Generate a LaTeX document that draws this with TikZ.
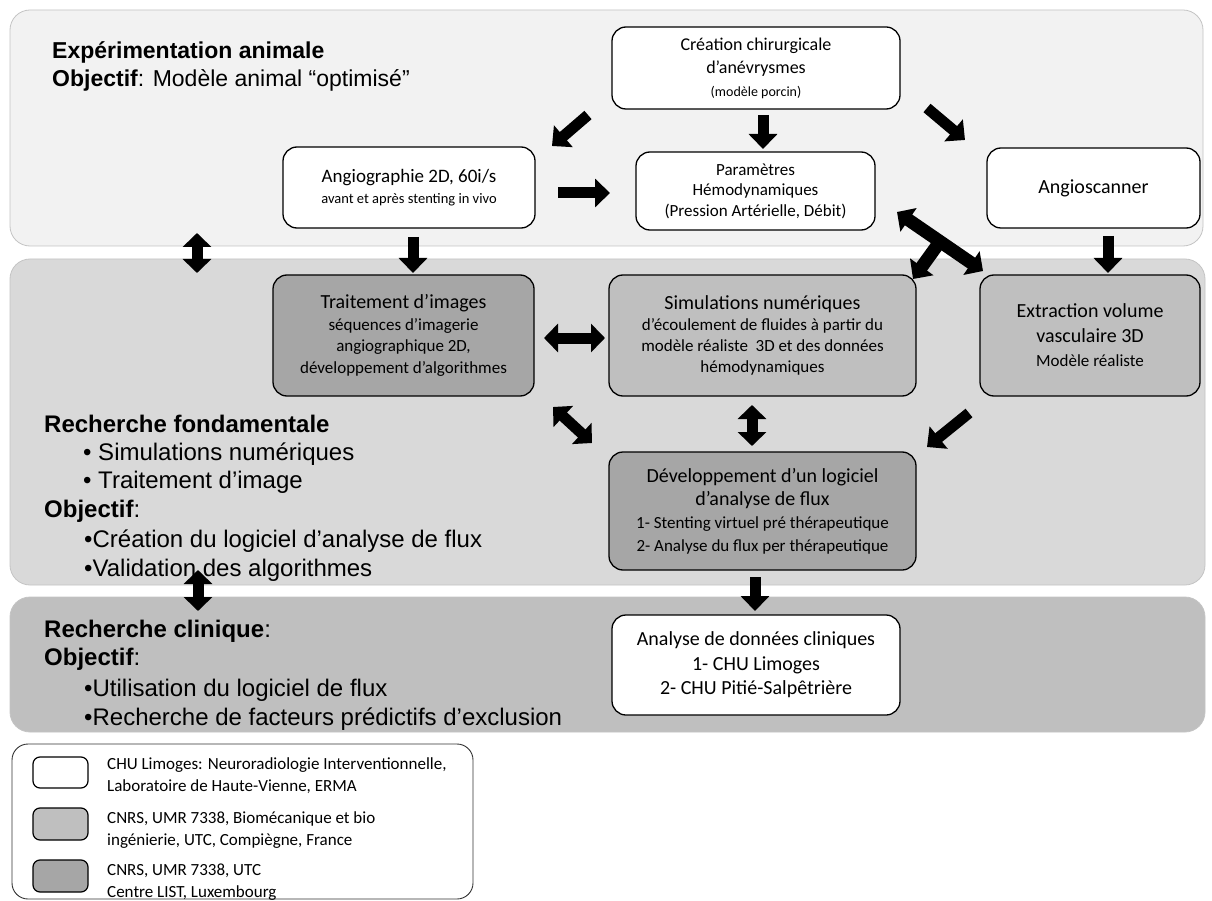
\documentclass[tikz,border=0pt]{standalone}
\usepackage{fontspec}
\setmainfont{Carlito}
\newfontfamily\arial{Liberation Sans}
\usetikzlibrary{arrows.meta}
\definecolor{bandA}{HTML}{F2F2F2}
\definecolor{bandB}{HTML}{D9D9D9}
\definecolor{bandC}{HTML}{BFBFBF}
\definecolor{boxL}{HTML}{BFBFBF}
\definecolor{boxD}{HTML}{A6A6A6}
\definecolor{bandline}{HTML}{C4C4C4}
\newcommand{\fsz}[1]{\fontsize{#1}{#1}\selectfont}
\begin{document}
\begin{tikzpicture}[x=1pt,y=-1pt,
  band/.style={draw=bandline, line width=0.8pt, rounded corners=20pt},
  box/.style={draw=black, line width=1.3pt, rounded corners=14pt, align=center, inner sep=2pt},
  lab/.style={anchor=base west, inner sep=0pt, font=\arial\fontsize{24}{28}\selectfont},
  labtop/.style={anchor=base west, inner sep=0pt, font=\arial\fontsize{23}{27}\selectfont},
  leg/.style={anchor=base west, inner sep=0pt, font=\fontsize{17}{20}\selectfont},
  sw/.style={draw=black, line width=1.2pt, rounded corners=7pt},
  blk/.style={line width=11pt, -{Triangle[width=28pt,length=15pt]}},
  dblk/.style={line width=11pt, {Triangle[width=28pt,length=14pt]}-{Triangle[width=28pt,length=14pt]}}
]
\useasboundingbox (0,0) rectangle (1212,901);
\fill[white] (0,0) rectangle (1212,901);

% bands
\path[band, fill=bandA] (10,10) rectangle (1203,246);
\path[band, fill=bandB] (10,259) rectangle (1205,585);
\path[band, fill=bandC] (10,597) rectangle (1205,732);

% band texts
\node[labtop] (e1) at (52,59) {\textbf{Expérimentation animale}};
\node[labtop] (e2) at (52,87) {\textbf{Objectif}: Modèle animal “optimisé”};

\node[lab] (f1) at (44,432) {\textbf{Recherche fondamentale}};
\node[lab] (f2) at (83,460) {• Simulations numériques};
\node[lab] (f3) at (83,488) {• Traitement d’image};
\node[lab] (f4) at (44,517) {\textbf{Objectif}:};
\node[lab] (f5) at (84,547) {•Création du logiciel d’analyse de flux};
\node[lab] (f6) at (84,576) {•Validation des algorithmes};

\node[lab] (c1) at (44,637) {\textbf{Recherche clinique}:};
\node[lab] (c2) at (44,665) {\textbf{Objectif}:};
\node[lab] (c3) at (84,696) {•Utilisation du logiciel de flux};
\node[lab] (c4) at (84,725) {•Recherche de facteurs prédictifs d’exclusion};

% boxes
\node[box, fill=white, minimum width=288pt, minimum height=82pt, font=\fontsize{18}{23}\selectfont] (crea) at (756,68)
  {Création chirurgicale\\d’anévrysmes\\\fsz{14}(modèle porcin)};
\node[box, fill=white, minimum width=252pt, minimum height=81pt, font=\fontsize{19}{21}\selectfont] (angio) at (409,187.5)
  {Angiographie 2D, 60i/s\\\fsz{14.5}avant et après stenting in vivo};
\node[box, fill=white, minimum width=239pt, minimum height=78pt, font=\fontsize{17}{20.5}\selectfont] (param) at (755.5,191)
  {Paramètres\\Hémodynamiques\\(Pression Artérielle, Débit)};
\node[box, fill=white, minimum width=213pt, minimum height=80pt, font=\fontsize{20}{24}\selectfont] (scan) at (1093.5,188)
  {Angioscanner};

\node[box, fill=boxD, minimum width=261pt, minimum height=121pt, font=\fontsize{17}{21.5}\selectfont] (trait) at (403.5,335.5)
  {\fsz{20}Traitement d’images\\séquences d’imagerie\\angiographique 2D,\\développement d’algorithmes};
\node[box, fill=boxL, minimum width=307pt, minimum height=121pt, font=\fontsize{17}{21}\selectfont] (simu) at (762.5,335.5)
  {\fsz{20}Simulations numériques\\d’écoulement de fluides à partir du\\modèle réaliste\ \ 3D et des données\\hémodynamiques};
\node[box, fill=boxL, minimum width=220pt, minimum height=121pt, font=\fontsize{20}{24.5}\selectfont] (extr) at (1090,335.5)
  {Extraction volume\\vasculaire 3D\\\fsz{17}Modèle réaliste};
\node[box, fill=boxD, minimum width=307pt, minimum height=118pt, font=\fontsize{20}{23}\selectfont] (dev) at (762.5,511)
  {Développement d’un logiciel\\d’analyse de flux\\\fsz{17}1- Stenting virtuel pré thérapeutique\\\fsz{17}2- Analyse du flux per thérapeutique};
\node[box, fill=white, minimum width=288pt, minimum height=100pt, font=\fontsize{20}{24.5}\selectfont] (ana) at (756,665)
  {Analyse de données cliniques\\1- CHU Limoges\\2- CHU Pitié-Salpêtrière};

% arrow end points
\coordinate (a1s) at (588,115); \coordinate (a1e) at (552,146);
\coordinate (a2s) at (763,115); \coordinate (a2e) at (763,149);
\coordinate (a3s) at (927,108); \coordinate (a3e) at (965,140);
\coordinate (a4s) at (558,193); \coordinate (a4e) at (610,193);
\coordinate (a5s) at (197,233); \coordinate (a5e) at (197,273);
\coordinate (a6s) at (413,237); \coordinate (a6e) at (413,273);
\coordinate (a7s) at (897,212); \coordinate (a7e) at (983,271);
\coordinate (a7m) at (940,241.5); \coordinate (a7b) at (913,279);
\coordinate (a8s) at (1108,236); \coordinate (a8e) at (1108,273);
\coordinate (a9s) at (544,338); \coordinate (a9e) at (605,338);
\coordinate (a10s) at (553,407); \coordinate (a10e) at (592,443);
\coordinate (a11s) at (752,405); \coordinate (a11e) at (752,446);
\coordinate (a12s) at (969,413); \coordinate (a12e) at (927,447);
\coordinate (a13s) at (755,577); \coordinate (a13e) at (755,611);
\coordinate (a14s) at (198,570); \coordinate (a14e) at (198,611);

\draw[blk] (a1s) -- (a1e);
\draw[blk] (a2s) -- (a2e);
\draw[blk] (a3s) -- (a3e);
\draw[blk] (a4s) -- (a4e);
\draw[dblk] (a5s) -- (a5e);
\draw[blk] (a6s) -- (a6e);
\draw[dblk, line width=13pt] (a7s) -- (a7e);
\draw[blk, line width=13pt] (a7m) -- (a7b);
\draw[blk] (a8s) -- (a8e);
\draw[dblk] (a9s) -- (a9e);
\draw[dblk] (a10s) -- (a10e);
\draw[dblk] (a11s) -- (a11e);
\draw[blk] (a12s) -- (a12e);
\draw[blk] (a13s) -- (a13e);
\draw[dblk] (a14s) -- (a14e);

% legend
\draw[line width=0.9pt, draw=black!80, rounded corners=16pt] (12,744) rectangle (473,899);
\path[sw, fill=white] (33,757) rectangle (88,788);
\path[sw, fill=boxL] (33,808) rectangle (88,840);
\path[sw, fill=boxD] (33,860) rectangle (88,892);
\node[leg] (l1) at (107,769) {CHU Limoges: Neuroradiologie Interventionnelle,};
\node[leg] (l2) at (107,791) {Laboratoire de Haute-Vienne, ERMA};
\node[leg] (l3) at (107,823) {CNRS, UMR 7338, Biomécanique et bio};
\node[leg] (l4) at (107,845) {ingénierie, UTC, Compiègne, France};
\node[leg] (l5) at (107,875) {CNRS, UMR 7338, UTC};
\node[leg] (l6) at (107,897) {Centre LIST, Luxembourg};
\end{tikzpicture}
\end{document}
